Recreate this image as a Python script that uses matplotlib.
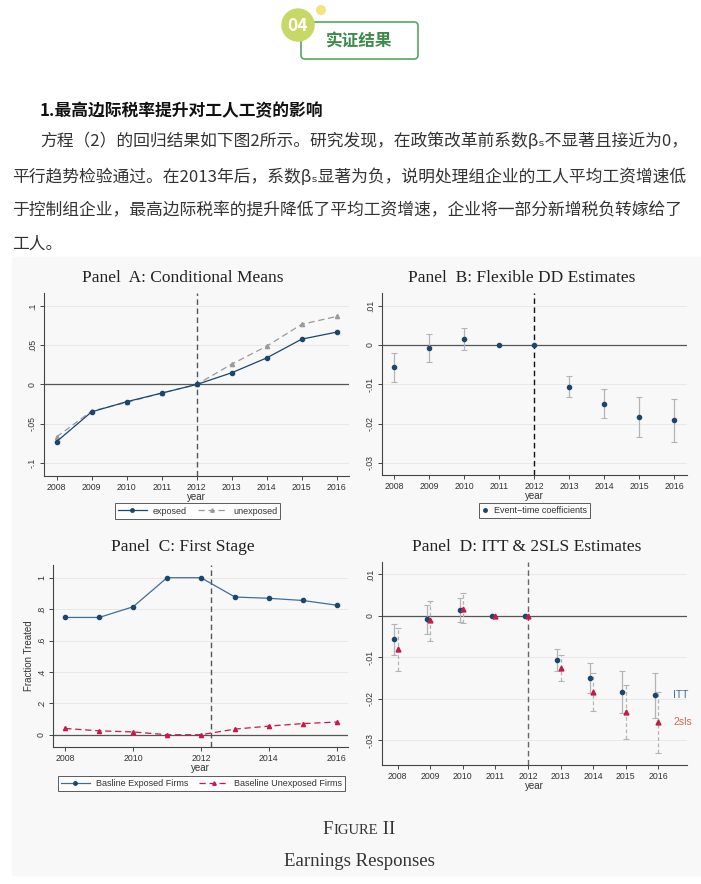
import numpy as np
import matplotlib
matplotlib.use("Agg")
import matplotlib.pyplot as plt
from matplotlib.patches import FancyBboxPatch, Circle, Rectangle
from matplotlib.lines import Line2D

W, H = 701, 884
CJK = ["Noto Sans CJK SC", "DejaVu Sans"]
SERIF = "Liberation Serif"
SANS = "Liberation Sans"

# ---- data ----
years = [2008, 2009, 2010, 2011, 2012, 2013, 2014, 2015, 2016]

a_exposed = [-0.073, -0.035, -0.022, -0.011, 0.0, 0.015, 0.034, 0.058, 0.067]
a_unexposed = [-0.067, -0.034, -0.023, -0.011, 0.0, 0.026, 0.049, 0.077, 0.087]

itt_coef = [-0.0057, -0.0008, 0.0014, 0.0, 0.0, -0.0106, -0.0150, -0.0184, -0.0192]
itt_lo = [-0.0094, -0.0044, -0.0014, np.nan, np.nan, -0.0133, -0.0187, -0.0235, -0.0247]
itt_hi = [-0.0020, 0.0027, 0.0042, np.nan, np.nan, -0.0080, -0.0113, -0.0133, -0.0137]

tsls_coef = [-0.0080, -0.0010, 0.0017, 0.0, 0.0, -0.0125, -0.0183, -0.0233, -0.0257]
tsls_lo = [-0.0133, -0.0061, -0.0018, np.nan, np.nan, -0.0158, -0.0230, -0.0298, -0.0331]
tsls_hi = [-0.0029, 0.0036, 0.0054, np.nan, np.nan, -0.0095, -0.0139, -0.0167, -0.0183]

c_exposed = [0.747, 0.747, 0.815, 1.0, 1.0, 0.877, 0.869, 0.855, 0.825]
c_unexposed = [0.040, 0.025, 0.018, 0.0, 0.0, 0.036, 0.055, 0.071, 0.081]

a_yticks = [-0.1, -0.05, 0, 0.05, 0.1]
a_ylabels = ["-.1", "-.05", "0", ".05", ".1"]
b_yticks = [-0.03, -0.02, -0.01, 0, 0.01]
b_ylabels = ["-.03", "-.02", "-.01", "0", ".01"]
c_yticks = [0, 0.2, 0.4, 0.6, 0.8, 1.0]
c_ylabels = ["0", ".2", ".4", ".6", ".8", "1"]
c_xticks = [2008, 2010, 2012, 2014, 2016]

heading = "1.最高边际税率提升对工人工资的影响"
para = [
    "方程（2）的回归结果如下图2所示。研究发现，在政策改革前系数β\u209b不显著且接近为0，",
    "平行趋势检验通过。在2013年后，系数β\u209b显著为负，说明处理组企业的工人平均工资增速低",
    "于控制组企业，最高边际税率的提升降低了平均工资增速，企业将一部分新增税负转嫁给了",
    "工人。",
]

NAVY = "#1a476f"
GRAYL = "#9a9a9a"
RED = "#c8184a"
CI = "#b4b4b4"
PANEL_BG = "#f8f8f8"

fig = plt.figure(figsize=(W / 100, H / 100), dpi=100)
bg = fig.add_axes([0, 0, 1, 1])
bg.set_xlim(0, W)
bg.set_ylim(H, 0)
bg.axis("off")


def rect(x0, y0, x1, y1):
    return [x0 / W, 1 - y1 / H, (x1 - x0) / W, (y1 - y0) / H]


# ---- header badge ----
bg.add_patch(FancyBboxPatch((301, 22), 117, 37, boxstyle="round,pad=0,rounding_size=4",
                            fc="white", ec="#5aa55f", lw=1.2))
bg.add_patch(Circle((298, 25), 16, color="#c6d967", zorder=3))
bg.add_patch(Circle((321, 10), 4.3, color="#f7e27e", zorder=3))
bg.text(298, 26, "04", color="white", fontsize=12.5, fontweight="bold", ha="center",
        va="center", family=CJK, zorder=4)
bg.text(359, 42, "实证结果", color="#3d8b48", fontsize=12, fontweight="bold",
        ha="center", va="center", family=CJK)

# ---- article text ----
bg.text(40, 111, heading, fontsize=12.1, fontweight="bold", color="#111", va="center",
        family=CJK)
line_y = [141, 177, 211, 244]
line_x = [40, 12, 12, 12]
for s, x, y in zip(para, line_x, line_y):
    bg.text(x, y, s, fontsize=12.1, color="#333", va="center", family=CJK)

# ---- figure area ----
bg.add_patch(Rectangle((12, 257), W - 12, 618, color=PANEL_BG, zorder=0))


def style(ax, xlim, ylim, yticks, ylabels, xticks=years):
    ax.set_facecolor(PANEL_BG)
    ax.set_xlim(*xlim)
    ax.set_ylim(*ylim)
    for s in ("top", "right"):
        ax.spines[s].set_visible(False)
    for s in ("left", "bottom"):
        ax.spines[s].set_color("#444")
        ax.spines[s].set_linewidth(0.8)
    ax.set_yticks(yticks)
    ax.set_yticklabels(ylabels, rotation=90, va="center")
    ax.set_xticks(xticks)
    ax.set_xticklabels([str(x) for x in xticks])
    ax.tick_params(labelsize=6.3, colors="#444", length=3, width=0.7, pad=2,
                   labelcolor="#333")
    for lab in ax.get_xticklabels() + ax.get_yticklabels():
        lab.set_family(SANS)
    for t in yticks:
        ax.axhline(t, color="#e6e6e6", lw=0.6, zorder=0)
    ax.axhline(0, color="#555", lw=0.9, zorder=1)
    ax.set_xlabel("year", fontsize=7, family=SANS, color="#333", labelpad=0)


def legend(ax, handles, labels, cx, cy, ncol, hl=3.2, tp=0.7):
    lg = ax.legend(handles, labels, loc="center", bbox_to_anchor=(cx / W, 1 - cy / H),
                   bbox_transform=fig.transFigure, ncol=ncol, fontsize=6.5, frameon=True,
                   fancybox=False, edgecolor="#333", facecolor="white", handlelength=hl,
                   borderpad=0.35, columnspacing=1.2, handletextpad=tp)
    lg.get_frame().set_linewidth(0.7)
    for t in lg.get_texts():
        t.set_family(SANS)
        t.set_color("#333")


def errbars(ax, x, coef, lo, hi, ls="-"):
    x = np.asarray(x, float)
    coef, lo, hi = (np.asarray(v, float) for v in (coef, lo, hi))
    m = ~np.isnan(lo)
    eb = ax.errorbar(x[m], coef[m], yerr=[coef[m] - lo[m], hi[m] - coef[m]], fmt="none",
                     ecolor=CI, elinewidth=0.9, capsize=2.5, capthick=0.8, zorder=2)
    eb[2][0].set_linestyle(ls)


titles = [
    ("Panel  A: Conditional Means", 183, 278),
    ("Panel  B: Flexible DD Estimates", 522, 278),
    ("Panel  C: First Stage", 183, 547),
    ("Panel  D: ITT & 2SLS Estimates", 527, 547),
]
for s, x, y in titles:
    bg.text(x, y, s, family=SERIF, fontsize=12.5, color="#222", ha="center", va="center",
            zorder=5)

# Panel A
axA = fig.add_axes(rect(44, 293, 349, 476))
style(axA, (2007.64, 2016.35), (-0.117, 0.117), a_yticks, a_ylabels)
axA.axvline(2012, color="#555", lw=1, ls=(0, (4, 2.5)), zorder=1)
axA.plot(years, a_unexposed, color=GRAYL, lw=0.9, ls=(0, (5, 3)), marker="^", ms=3,
         zorder=3)
axA.plot(years, a_exposed, color=NAVY, lw=0.9, marker="o", ms=3, zorder=4)
legend(axA,
       [Line2D([], [], color=NAVY, lw=0.9, marker="o", ms=2.5),
        Line2D([], [], color=GRAYL, lw=0.9, ls=(0, (5, 3)), marker="^", ms=2.5)],
       ["exposed", "unexposed"], 197.5, 511, 2)

# Panel B
axB = fig.add_axes(rect(382, 293, 687, 475))
style(axB, (2007.65, 2016.36), (-0.0331, 0.0132), b_yticks, b_ylabels)
axB.axvline(2012, color="#111", lw=1, ls=(0, (4, 2.5)), zorder=1)
errbars(axB, years, itt_coef, itt_lo, itt_hi)
axB.plot(years, itt_coef, ls="none", color=NAVY, marker="o", ms=3, zorder=4)
legend(axB, [Line2D([], [], ls="none", color=NAVY, marker="o", ms=2.5)],
       ["Event\u2212time coefficients"], 534.5, 510.5, 1, hl=0.8, tp=0.6)

# Panel C
axC = fig.add_axes(rect(53, 565, 348, 747))
style(axC, (2007.64, 2016.33), (-0.078, 1.081), c_yticks, c_ylabels, c_xticks)
axC.axvline(2012.3, color="#555", lw=1, ls=(0, (4, 2.5)), zorder=1)
axC.plot(years, c_exposed, color="#3f6e9a", lw=0.9, marker="o", mfc=NAVY, mec=NAVY,
         ms=3, zorder=4)
axC.plot(years, c_unexposed, color=RED, lw=0.9, ls=(0, (5, 3)), marker="^", ms=3,
         zorder=4)
axC.set_ylabel("Fraction Treated", fontsize=7, family=SANS, color="#333", labelpad=2)
legend(axC,
       [Line2D([], [], color="#3f6e9a", lw=0.9, marker="o", mfc=NAVY, mec=NAVY, ms=2.5),
        Line2D([], [], color=RED, lw=0.9, ls=(0, (5, 3)), marker="^", ms=2.5)],
       ["Basline Exposed Firms", "Baseline Unexposed Firms"], 201.5, 783.5, 2)

# Panel D
axD = fig.add_axes(rect(382, 562, 687, 765))
style(axD, (2007.52, 2016.88), (-0.036, 0.013), b_yticks, b_ylabels)
axD.axvline(2012, color="#666", lw=1, ls=(0, (4, 2.5)), zorder=1)
x_itt = np.array(years) - 0.1
errbars(axD, x_itt, itt_coef, itt_lo, itt_hi)
errbars(axD, years, tsls_coef, tsls_lo, tsls_hi, ls=(0, (3, 2)))
axD.plot(x_itt, itt_coef, ls="none", color=NAVY, marker="o", ms=3, zorder=4)
axD.plot(years, tsls_coef, ls="none", color=RED, marker="^", ms=3.5, zorder=4)
axD.text(2016.45, -0.0191, "ITT", color="#3b6a9c", fontsize=7.5, family=SANS, va="center")
axD.text(2016.45, -0.0257, "2sls", color="#c4704a", fontsize=7.5, family=SANS, va="center")

# ---- caption ----
r = fig.canvas.get_renderer()
pieces = [("F", 13.5), ("IGURE", 10.5), (" II", 13.5)]
x = 0
arts = []
for s, fs in pieces:
    t = bg.text(x, 834, s, family=SERIF, fontsize=fs, color="#333", va="baseline",
                zorder=5)
    w = t.get_window_extent(r).width
    arts.append((t, x))
    x += w
shift = 359 - x / 2
for t, x0 in arts:
    t.set_x(x0 + shift)
bg.text(359, 862, "Earnings Responses", family=SERIF, fontsize=13.5, color="#333",
        ha="center", va="center", zorder=5)

fig.savefig("out.png", dpi=100)
